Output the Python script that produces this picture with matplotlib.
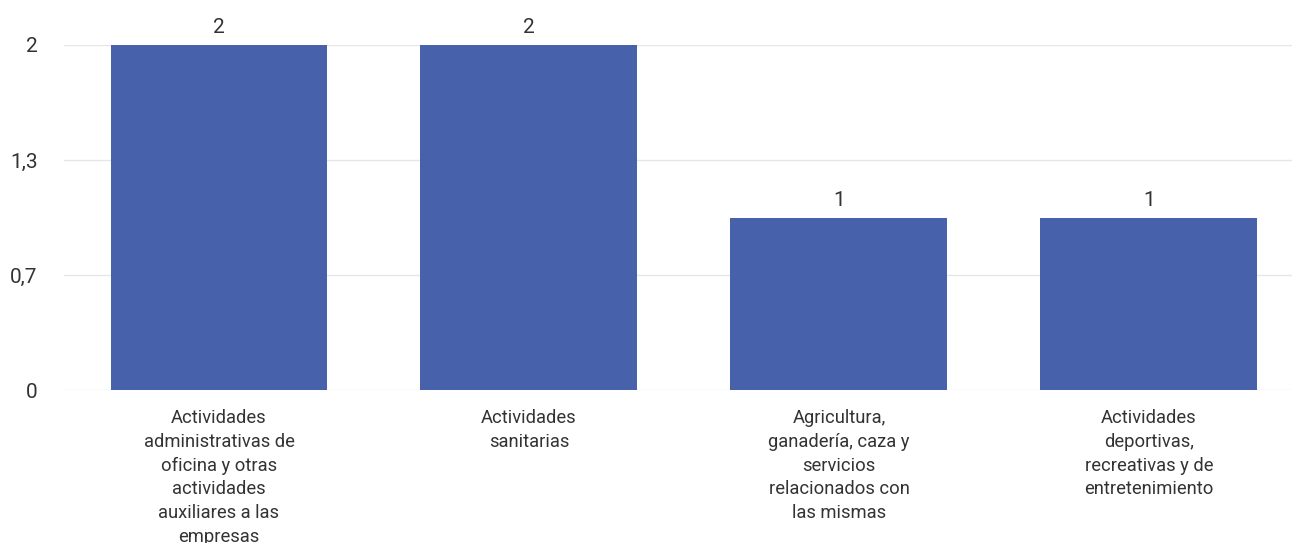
import matplotlib.pyplot as plt

plt.rcParams['font.family'] = ['Roboto', 'DejaVu Sans']

categorias = [
    "Actividades\nadministrativas de\noficina y otras\nactividades\nauxiliares a las\nempresas",
    "Actividades\nsanitarias",
    "Agricultura,\nganadería, caza y\nservicios\nrelacionados con\nlas mismas",
    "Actividades\ndeportivas,\nrecreativas y de\nentretenimiento",
]
valores = [2, 2, 1, 1]
ticks = [0, 2 / 3, 4 / 3, 2]
tick_labels = ["0", "0,7", "1,3", "2"]

W, H = 1292, 543
fig = plt.figure(figsize=(W / 100, H / 100), dpi=100)
# el eje se extiende un poco más allá del borde derecho
ax = fig.add_axes([64 / W, 1 - 390 / H, (1304 - 64) / W, (390 - 45) / H])

x = range(len(valores))
ax.bar(x, valores, width=0.7, color="#4761ab", zorder=2)
ax.set_xlim(-0.5, 3.5)
ax.set_ylim(0, 2)

texto = "#333333"
for xi, v in zip(x, valores):
    ax.text(xi, v + 0.045, str(v), ha="center", va="bottom", fontsize=15,
            color=texto, clip_on=False)

ax.set_yticks(ticks)
ax.set_yticklabels(tick_labels, fontsize=15, color=texto)
ax.grid(axis="y", color="#e6e6e6", linewidth=1, zorder=0)
ax.tick_params(axis="y", length=0, pad=19)

ax.set_xticks(list(x))
ax.set_xticklabels(categorias, fontsize=13.2, color=texto, linespacing=1.4)
ax.tick_params(axis="x", length=0, pad=14)

for s in ax.spines.values():
    s.set_visible(False)

fig.savefig("out.png", dpi=100)
